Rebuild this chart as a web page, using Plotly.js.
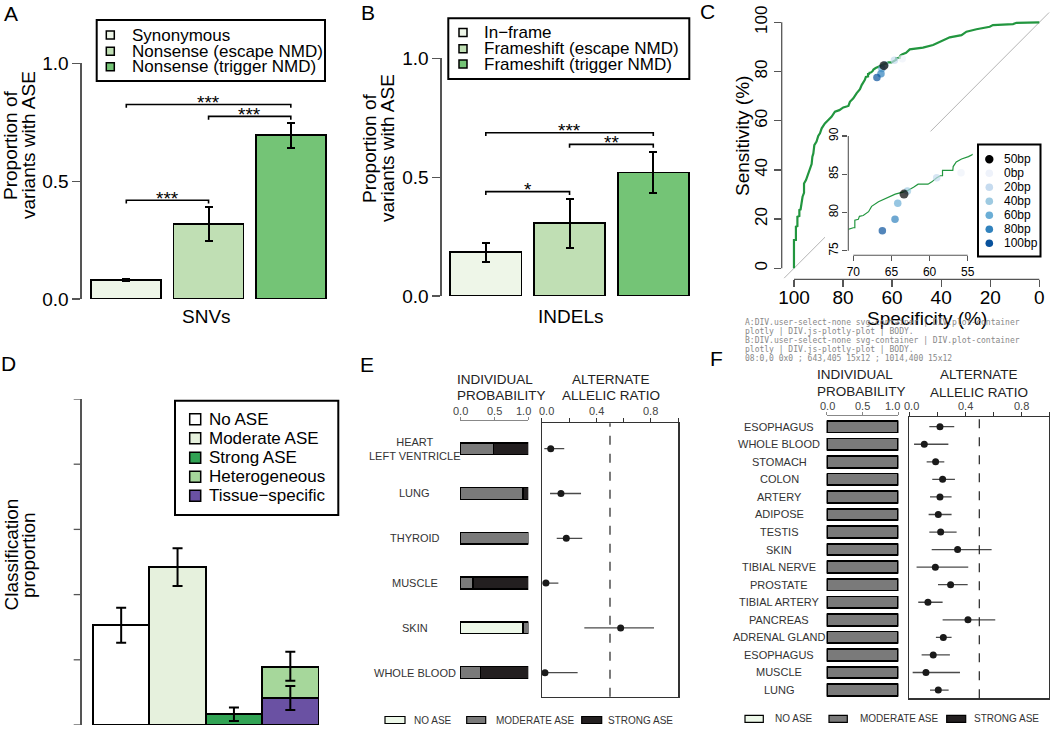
<!DOCTYPE html>
<html><head><meta charset="utf-8">
<script src="https://cdn.plot.ly/plotly-3.0.1.min.js"></script>
<style>html,body{margin:0;padding:0;background:#fff}#chart{width:1050px;height:731px}#dbg{position:absolute;left:745px;top:318px;width:300px;font:8px monospace;color:#888;white-space:pre-wrap;line-height:9px;z-index:5}</style>
</head><body><div id="chart"></div><div id="dbg"></div>
<script>
// ================= DATA =================
const snvCategories = ['Synonymous', 'Nonsense (escape NMD)', 'Nonsense (trigger NMD)'];
const snvValues     = [0.080, 0.319, 0.695];
const snvErrPlus    = [0.004, 0.072, 0.052];
const snvErrMinus   = [0.004, 0.072, 0.054];
const snvSigPairs   = [[0, 1], [0, 2], [1, 2]];
const snvSigHeights = [0.419, 0.825, 0.775];
const snvSigLabels  = ['***', '***', '***'];
const snvAxisLabel  = 'SNVs';

const indelCategories = ['In\u2212frame', 'Frameshift (escape NMD)', 'Frameshift (trigger NMD)'];
const indelValues     = [0.184, 0.306, 0.520];
const indelErrPlus    = [0.040, 0.102, 0.087];
const indelErrMinus   = [0.042, 0.106, 0.085];
const indelSigPairs   = [[0, 1], [0, 2], [1, 2]];
const indelSigHeights = [0.439, 0.687, 0.638];
const indelSigLabels  = ['*', '***', '**'];
const indelAxisLabel  = 'INDELs';

const proportionTicks = [0, 0.5, 1.0];
const proportionTickText = ['0.0', '0.5', '1.0'];

const rocSpecificity = [100, 100, 99.2, 99.2, 98.6, 98.6, 97.8, 97.8, 97.3, 96.9, 96.5, 95.9, 95.9, 95.1, 93.8,
  92.8, 92.5, 92.1, 91.7, 90.8, 90.1, 89.4, 88.7, 87.4, 86.0, 84.7, 83.3, 81.5, 79.9, 77.8, 77.2, 75.8, 74.5,
  73.1, 72.4, 71.3, 71.1, 70.7, 70.0, 69.8, 69.8, 69.34, 69.2, 68.7, 68.0, 67.6, 66.7, 65.6, 64.5, 63.4, 62.8,
  62.1, 61.5, 60.2, 59.7, 59.1, 58.6, 58.3, 58.3, 56.95, 56.9, 56.5, 55.8, 54.9, 54.3, 52.8, 47.4, 43.3, 40.6,
  36.5, 31.7, 29.7, 25.6, 20.2, 18.9, 10.7, 9.3, 0];
const rocSensitivity = [0, 11.5, 11.5, 16.9, 17.2, 21.0, 21.3, 23.7, 23.9, 27.1, 29.1, 30.7, 34.5, 35.9, 39.7,
  42.4, 45.4, 46.7, 50.1, 51.5, 53.8, 54.9, 56.9, 58.9, 60.3, 61.6, 63.7, 64.3, 65.4, 66.0, 67.7, 69.1, 71.1,
  72.8, 74.5, 75.9, 76.6, 77.8, 78.0, 78.0, 79.0, 79.1, 79.5, 79.6, 80.1, 80.8, 81.4, 81.9, 82.4, 82.7, 82.9,
  83.3, 83.7, 83.7, 84.0, 84.5, 84.8, 84.8, 85.5, 85.5, 86.0, 86.6, 87.0, 87.3, 87.6, 89.0, 89.7, 90.8, 92.1,
  93.9, 94.8, 96.2, 97.2, 98.2, 98.9, 99.3, 99.8, 100];
const windowLabels      = ['50bp', '0bp', '20bp', '40bp', '60bp', '80bp', '100bp'];
const windowSpecificity = [63.35, 55.87, 59.06, 62.9, 64.17, 64.53, 66.19];
const windowSensitivity = [82.4, 85.2, 84.55, 82.8, 81.2, 79.1, 77.6];
const rocTicks   = [0, 20, 40, 60, 80, 100];
const insetXTicks = [70, 65, 60, 55];
const insetYTicks = [75, 80, 85, 90];

const classLabels   = ['No ASE', 'Moderate ASE', 'Strong ASE', 'Heterogeneous', 'Tissue\u2212specific'];
const classValues   = [0.307, 0.484, 0.034, 0.097, 0.082];
const classErrPlus  = [0.053, 0.058, 0.020, 0.046, 0.038];
const classErrMinus = [0.055, 0.058, 0.022, 0.043, 0.036];
const classColumn   = [0, 1, 2, 3, 3];
const classTicks    = [0, 0.2, 0.4, 0.6, 0.8, 1.0];
const classTickText = ['0.0', '0.2', '0.4', '0.6', '0.8', '1.0'];

const probCategories = ['NO ASE', 'MODERATE ASE', 'STRONG ASE'];
const probTicks = [0, 0.5, 1.0];
const probTickText = ['0.0', '0.5', '1.0'];
const ratioTicks = [0, 0.2, 0.4, 0.6, 0.8, 1.0];
const ratioTickText = ['0.0', '', '0.4', '', '0.8', ''];
const ratioReference = 0.5;

const eTissues  = ['HEART<br>LEFT VENTRICLE', 'LUNG', 'THYROID', 'MUSCLE', 'SKIN', 'WHOLE BLOOD'];
const eNoASE    = [0, 0, 0, 0, 0.92, 0];
const eModerate = [0.49, 0.92, 1.0, 0.19, 0.08, 0.30];
const eStrong   = [0.51, 0.08, 0, 0.81, 0, 0.70];
const eRatio    = [0.066, 0.141, 0.180, 0.031, 0.578, 0.024];
const eRatioLo  = [0.019, 0.061, 0.110, 0.007, 0.312, 0.000];
const eRatioHi  = [0.165, 0.288, 0.297, 0.122, 0.822, 0.263];

const fTissues  = ['ESOPHAGUS', 'WHOLE BLOOD', 'STOMACH', 'COLON', 'ARTERY', 'ADIPOSE', 'TESTIS', 'SKIN',
  'TIBIAL NERVE', 'PROSTATE', 'TIBIAL ARTERY', 'PANCREAS', 'ADRENAL GLAND', 'ESOPHAGUS', 'MUSCLE', 'LUNG'];
const fNoASE    = [0, 0, 0, 0, 0, 0, 0, 0, 0, 0, 0, 0, 0, 0, 0, 0];
const fModerate = [1, 1, 1, 1, 1, 1, 1, 1, 1, 1, 1, 1, 1, 1, 1, 1];
const fStrong   = [0, 0, 0, 0, 0, 0, 0, 0, 0, 0, 0, 0, 0, 0, 0, 0];
const fRatio    = [0.219, 0.107, 0.188, 0.238, 0.219, 0.207, 0.224, 0.345, 0.186, 0.295, 0.133, 0.419, 0.243, 0.171, 0.119, 0.207];
const fRatioLo  = [0.143, 0.034, 0.124, 0.164, 0.148, 0.138, 0.143, 0.160, 0.052, 0.205, 0.064, 0.238, 0.190, 0.088, 0.024, 0.148];
const fRatioHi  = [0.321, 0.279, 0.250, 0.326, 0.302, 0.302, 0.338, 0.588, 0.421, 0.417, 0.238, 0.614, 0.302, 0.290, 0.362, 0.281];

// ================= STYLE =================
const FONT = 'Liberation Sans, Arial, Helvetica, sans-serif';
const snvColors   = ['#eef6e8', '#c0dfb4', '#74c476'];
const classColors = ['#ffffff', '#e6f1dd', '#31a354', '#a6d79b', '#6a51a3'];
const windowColors = ['#000000', '#eef2fa', '#c6dbef', '#9ecae1', '#6baed6', '#3182bd', '#08519c'];
const probColors  = ['#edf8e9', '#7a7a7a', '#231f20'];
const rocColor = '#22963f';
const AXC = '#555';

const W = 1050, H = 731;
const PX = v => v / W;
const PY = v => 1 - v / H;
const dx = (a, b) => [PX(a), PX(b)];
const dy = (t, b) => [PY(b), PY(t)];

const traces = [];
const shapes = [];
const annotations = [];

function ann(o) {
  annotations.push(Object.assign({showarrow: false, xref: 'paper', yref: 'paper',
    font: {family: FONT, size: 17, color: '#000'}}, o));
}
function txt(text, x, y, size, opts) {
  ann(Object.assign({text: text, x: PX(x), y: PY(y), font: {family: FONT, size: size, color: '#000'},
    xanchor: 'center', yanchor: 'middle'}, opts || {}));
}
function rectPx(x0, y0, x1, y1, fill, lw, layer) {
  shapes.push({type: 'rect', xref: 'paper', yref: 'paper', x0: PX(x0), x1: PX(x1), y0: PY(y1), y1: PY(y0),
    fillcolor: fill, line: {color: '#000', width: lw}, layer: layer || 'above'});
}

function barPanel(xa, ya, cats, vals, ep, em, pairs, heights, labels, tick) {
  const idx = cats.map((_, i) => i);
  traces.push({type: 'bar', x: idx, y: vals, width: 0.85, xaxis: xa, yaxis: ya,
    marker: {color: snvColors, line: {color: '#000', width: 1.8}},
    error_y: {type: 'data', symmetric: false, array: ep, arrayminus: em, color: '#000', thickness: 2, width: 4},
    hoverinfo: 'skip', showlegend: false});
  pairs.forEach((p, k) => {
    const h = heights[k], d = tick;
    traces.push({type: 'scatter', mode: 'lines', x: [p[0], p[0], p[1], p[1]], y: [h - d, h, h, h - d],
      xaxis: xa, yaxis: ya, line: {color: '#000', width: 1.6}, hoverinfo: 'skip', showlegend: false});
    annotations.push({text: labels[k], x: (p[0] + p[1]) / 2, y: h, xref: xa, yref: ya, showarrow: false,
      xanchor: 'center', yanchor: 'middle', yshift: 2, font: {family: FONT, size: 19, color: '#000'}});
  });
}
barPanel('x', 'y', snvCategories, snvValues, snvErrPlus, snvErrMinus, snvSigPairs, snvSigHeights, snvSigLabels, 0.014);
barPanel('x2', 'y2', indelCategories, indelValues, indelErrPlus, indelErrMinus, indelSigPairs, indelSigHeights, indelSigLabels, 0.014);

function squareLegend(box, labels, colors, ys, mx, half, tx, size) {
  rectPx(box[0], box[1], box[2], box[3], '#fff', 2);
  labels.forEach((l, i) => {
    rectPx(mx - half, ys[i] - half, mx + half, ys[i] + half, colors[i], 1.5);
    txt(l, tx, ys[i], size, {xanchor: 'left'});
  });
}
squareLegend([96.7, 20, 325, 81], snvCategories, snvColors, [35, 51.2, 66.7], 110.3, 4, 130, 17);
squareLegend([448.3, 18.3, 689.3, 79], indelCategories, snvColors, [32.5, 48.7, 64], 463, 4, 481.7, 17);

const cXd = [781.7, 1049.1], cXr = [105, -4], cYd = [279.3, 12.5], cYr = [-4.47, 104];
const cPx = s => cXd[0] + (s - cXr[0]) / (cXr[1] - cXr[0]) * (cXd[1] - cXd[0]);
const cPy = s => cYd[0] + (s - cYr[0]) / (cYr[1] - cYr[0]) * (cYd[1] - cYd[0]);
shapes.push({type: 'line', xref: 'paper', yref: 'paper', layer: 'below',
  x0: PX(cPx(104)), y0: PY(cPy(100 - 104)), x1: PX(cPx(-4)), y1: PY(cPy(100 + 4)),
  line: {color: '#b4b4b4', width: 1}});
shapes.push({type: 'rect', xref: 'paper', yref: 'paper', layer: 'below',
  x0: PX(825), x1: PX(1046), y0: PY(276), y1: PY(134.5), fillcolor: '#fff', line: {width: 0}});

const drawOrder = [1, 2, 3, 4, 5, 6, 0];
function rocTraces(xa, ya, lw, big, small) {
  traces.push({type: 'scatter', mode: 'lines', x: rocSpecificity, y: rocSensitivity, xaxis: xa, yaxis: ya,
    line: {color: rocColor, width: lw}, hoverinfo: 'skip', showlegend: false});
  traces.push({type: 'scatter', mode: 'markers', xaxis: xa, yaxis: ya,
    x: drawOrder.map(i => windowSpecificity[i]), y: drawOrder.map(i => windowSensitivity[i]),
    marker: {color: drawOrder.map(i => windowColors[i]), size: drawOrder.map(i => i === 0 ? big : small), line: {width: 0}},
    hoverinfo: 'skip', showlegend: false});
}
rocTraces('x3', 'y3', 2.2, 9, 7.5);
rocTraces('x4', 'y4', 1.2, 9, 7.5);

shapes.push({type: 'line', xref: 'x3 domain', yref: 'y3', x0: 0, x1: 0, y0: 0, y1: 100, line: {color: AXC, width: 1.3}});
shapes.push({type: 'line', xref: 'x3', yref: 'y3 domain', x0: 100, x1: 0, y0: 0, y1: 0, line: {color: AXC, width: 1.3}});
shapes.push({type: 'line', xref: 'x4 domain', yref: 'y4', x0: 0, x1: 0, y0: 75, y1: 90, line: {color: AXC, width: 1.1}});
shapes.push({type: 'line', xref: 'x4', yref: 'y4 domain', x0: 70, x1: 55, y0: 0, y1: 0, line: {color: AXC, width: 1.1}});

rectPx(978, 144.5, 1040.5, 256.5, '#fff', 2);
const legYs = [159.3, 173.3, 187.3, 201.3, 215.3, 229.3, 243.3];
windowLabels.forEach((l, i) => {
  const r = i === 0 ? 4.2 : 3.8;
  shapes.push({type: 'circle', xref: 'paper', yref: 'paper', x0: PX(989.3 - r), x1: PX(989.3 + r),
    y0: PY(legYs[i] + r), y1: PY(legYs[i] - r), fillcolor: windowColors[i], line: {width: 0}});
  txt(l, 1001.5, legYs[i], 12, {xanchor: 'left'});
});

// ---------- D ----------
const dOrder = [0, 1, 2, 4, 3];
const colTop = {};
const dTops = new Array(classValues.length);
dOrder.forEach(k => {
  const c = classColumn[k];
  colTop[c] = (colTop[c] || 0) + classValues[k];
  dTops[k] = colTop[c];
});
dOrder.forEach(k => {
  traces.push({type: 'bar', x: [classColumn[k]], y: [classValues[k]], width: 1, xaxis: 'x5', yaxis: 'y5',
    marker: {color: classColors[k], line: {color: '#000', width: 1.8}}, hoverinfo: 'skip', showlegend: false});
});
traces.push({type: 'scatter', mode: 'markers', x: classColumn, y: dTops, xaxis: 'x5', yaxis: 'y5',
  marker: {size: 1, color: 'rgba(0,0,0,0)'},
  error_y: {type: 'data', symmetric: false, array: classErrPlus, arrayminus: classErrMinus, color: '#000', thickness: 2, width: 5},
  hoverinfo: 'skip', showlegend: false});
squareLegend([175, 400.7, 338.3, 515], classLabels, classColors, [419.3, 438.3, 457.7, 476.7, 495.7], 195.2, 5.5, 206.7, 17);
// D value-axis ticks (shapes) and labels (text trace on the D axes, outside the plot area)
classTicks.forEach(v => {
  shapes.push({type: 'line', xref: 'x5 domain', yref: 'y5', x0: -8 / 258.3, x1: 0, y0: v, y1: v,
    line: {color: AXC, width: 1.3}});
});
const dLabelX = -0.70 - 10 / 56.4;
traces.push({type: 'scatter', mode: 'text', x: classTicks.map(() => dLabelX), y: classTicks, text: classTickText,
  textposition: 'middle left', cliponaxis: false, xaxis: 'x5', yaxis: 'y5',
  textfont: {family: FONT, size: 18, color: '#000'}, hoverinfo: 'skip', showlegend: false});

// ---------- E & F ----------
function tissuePanel(pxa, pya, rxa, rya, tissues, probs, ratio, lo, hi, barW, bw, labelX) {
  const rows = tissues.map((_, i) => i);
  probs.forEach((vals, k) => {
    traces.push({type: 'bar', orientation: 'h', x: vals, y: rows, width: barW, xaxis: pxa, yaxis: pya,
      marker: {color: probColors[k], line: {color: '#000', width: bw}}, hoverinfo: 'skip', showlegend: false});
  });
  traces.push({type: 'scatter', mode: 'markers', x: ratio, y: rows, xaxis: rxa, yaxis: rya,
    marker: {color: '#1a1a1a', size: 7},
    error_x: {type: 'data', symmetric: false, array: hi.map((h, i) => h - ratio[i]),
      arrayminus: lo.map((l, i) => ratio[i] - l), width: 0, thickness: 1.3, color: '#4a4a4a'},
    hoverinfo: 'skip', showlegend: false});
  shapes.push({type: 'line', xref: rxa, yref: rya + ' domain', x0: ratioReference, x1: ratioReference, y0: 0, y1: 1,
    line: {color: '#222', width: 1.2, dash: 'dash'}});
  tissues.forEach((t, i) => {
    annotations.push({text: t, x: PX(labelX), y: i, xref: 'paper', yref: pya, showarrow: false,
      xanchor: 'center', yanchor: 'middle', font: {family: FONT, size: 11, color: '#333'}});
  });
}
tissuePanel('x6', 'y6', 'x7', 'y7', eTissues, [eNoASE, eModerate, eStrong], eRatio, eRatioLo, eRatioHi, 0.26, 1.4, 414.5);
tissuePanel('x8', 'y8', 'x9', 'y9', fTissues, [fNoASE, fModerate, fStrong], fRatio, fRatioLo, fRatioHi, 0.66, 1.8, 779.3);

function topLabels(xa, vals, texts, shifts, ypx) {
  vals.forEach((v, i) => {
    if (!texts[i]) return;
    annotations.push({text: texts[i], x: v, xref: xa, y: PY(ypx), yref: 'paper', xshift: shifts[i], showarrow: false,
      xanchor: 'center', yanchor: 'middle', font: {family: FONT, size: 11, color: '#444'}});
  });
}
topLabels('x6', probTicks, probTickText, [0.8, 0.8, -4.5], 411);
topLabels('x7', ratioTicks, ratioTickText, [5, 0, 0, 0, 0, 0], 411);
topLabels('x8', probTicks, probTickText, [0.3, -0.2, -6.3], 406);
topLabels('x9', ratioTicks, ratioTickText, [2.4, 0, 0, 0, 0, 0], 406);

function probLegend(yc, boxes, textXs) {
  probCategories.forEach((c, k) => {
    rectPx(boxes[k][0], yc - 3.5, boxes[k][1], yc + 3.5, probColors[k], 1.2);
    txt(c, textXs[k], yc, 10, {xanchor: 'left', font: {family: FONT, size: 10, color: '#333'}});
  });
}
probLegend(720, [[385, 405], [466.7, 485.7], [581.7, 601.7]], [412.3, 494.3, 605.7]);
probLegend(718.8, [[745, 763.3], [829, 847.3], [946.7, 965.7]], [772.7, 857.7, 971.7]);

const hdrFont = {family: FONT, size: 13.5, color: '#222'};
txt('INDIVIDUAL', 455, 379.3, 13.5, {xanchor: 'left', font: hdrFont});
txt('PROBABILITY', 455, 395, 13.5, {xanchor: 'left', font: hdrFont});
txt('ALTERNATE', 610.8, 379.3, 13.5, {font: hdrFont});
txt('ALLELIC RATIO', 610.8, 395.5, 13.5, {font: hdrFont});
txt('INDIVIDUAL', 815, 375, 13.5, {xanchor: 'left', font: hdrFont});
txt('PROBABILITY', 815, 391.7, 13.5, {xanchor: 'left', font: hdrFont});
txt('ALTERNATE', 979.2, 375, 13.5, {font: hdrFont});
txt('ALLELIC RATIO', 979.2, 392, 13.5, {font: hdrFont});

txt('A', 10.5, 13.5, 21); txt('B', 367.5, 12.5, 21); txt('C', 707.5, 11.5, 21);
txt('D', 8, 363, 21); txt('E', 366.7, 364, 21); txt('F', 716.7, 358, 21);
txt('Proportion of', 10, 145, 19, {textangle: -90});
txt('variants with ASE', 28, 145, 19, {textangle: -90});
txt('Proportion of', 370, 148, 19, {textangle: -90});
txt('variants with ASE', 388, 148, 19, {textangle: -90});
txt(snvAxisLabel, 206.3, 316.5, 19);
txt(indelAxisLabel, 570.5, 316.5, 19);
txt('Sensitivity (%)', 742, 136, 19, {textangle: -90});
txt('Specificity (%)', 927, 318, 19);
txt('Classification', 10.5, 555, 19, {textangle: -90});
txt('proportion', 28, 555, 19, {textangle: -90});

// ================= LAYOUT =================
const base = {showgrid: false, zeroline: false, fixedrange: true, ticklabeloverflow: 'allow'};
const hidden = Object.assign({}, base, {visible: false});
const tfont = s => ({family: FONT, size: s, color: '#000'});
function yProp(anchor, dom, tickOpts, fs) {
  return Object.assign({}, base, {anchor: anchor, domain: dom, range: [0, 1], showline: true, linecolor: AXC, linewidth: 1.3,
    ticks: 'outside', ticklen: 8, tickwidth: 1.3, tickcolor: AXC, tickfont: tfont(fs)}, tickOpts);
}
const topAxis = (anchor, dom, tv, lc, tl, mirror) => Object.assign({}, base, {anchor: anchor, side: 'top', domain: dom,
  range: [0, 1], showline: true, mirror: mirror, linecolor: lc, linewidth: mirror ? 1.2 : 1, ticks: 'outside', ticklen: tl,
  tickcolor: lc, tickvals: tv, showticklabels: false});
const boxY = (anchor, dom, rng) => Object.assign({}, base, {anchor: anchor, domain: dom, range: rng, showline: true,
  mirror: true, linecolor: '#333', linewidth: 1.2, ticks: '', showticklabels: false});
const layout = {
  width: W, height: H, margin: {l: 0, r: 0, t: 0, b: 0}, paper_bgcolor: '#fff', plot_bgcolor: '#fff',
  showlegend: false, barmode: 'stack', font: {family: FONT},
  xaxis:  Object.assign({}, hidden, {anchor: 'y', domain: dx(81.7, 335), range: [-0.542, 2.537]}),
  yaxis:  yProp('x', dy(63.3, 299), {tickvals: proportionTicks, ticktext: proportionTickText}, 19),
  xaxis2: Object.assign({}, hidden, {anchor: 'y2', domain: dx(441.7, 700), range: [-0.527, 2.558]}),
  yaxis2: yProp('x2', dy(58.3, 296), {tickvals: proportionTicks, ticktext: proportionTickText}, 19),
  xaxis3: Object.assign({}, base, {anchor: 'y3', domain: dx(cXd[0], cXd[1]), range: cXr, showline: false,
    ticks: 'outside', ticklen: 7, tickwidth: 1.3, tickcolor: AXC, tickvals: rocTicks, tickfont: tfont(19), ticklabelstandoff: -6}),
  yaxis3: Object.assign({}, base, {anchor: 'x3', domain: dy(cYd[1], cYd[0]), range: cYr, showline: false,
    ticks: 'outside', ticklen: 7, tickwidth: 1.3, tickcolor: AXC, tickvals: rocTicks, tickangle: -90, tickfont: tfont(17)}),
  xaxis4: Object.assign({}, base, {anchor: 'y4', domain: dx(848.3, 972.7), range: [70.656, 54.34], showline: false,
    ticks: 'outside', ticklen: 5, tickwidth: 1.1, tickcolor: AXC, tickvals: insetXTicks, tickfont: tfont(12)}),
  yaxis4: Object.assign({}, base, {anchor: 'x4', domain: dy(131.4, 255.3), range: [74.4, 90.6], showline: false,
    ticks: 'outside', ticklen: 5, tickwidth: 1.1, tickcolor: AXC, tickvals: insetYTicks, tickangle: -90, tickfont: tfont(12)}),
  xaxis5: Object.assign({}, hidden, {anchor: 'y5', domain: dx(81.7, 340), range: [-0.70, 3.881]}),
  yaxis5: Object.assign({}, base, {anchor: 'x5', domain: dy(399, 725), range: [0, 1], showline: true, linecolor: AXC,
    linewidth: 1.3, ticks: '', showticklabels: false}),
  xaxis6: topAxis('y6', dx(460, 528.3), probTicks, '#888', 3, false),
  yaxis6: Object.assign({}, hidden, {anchor: 'x6', domain: dy(420.7, 696.7), range: [5.54, -0.625]}),
  xaxis7: topAxis('y7', dx(541.7, 678.3), ratioTicks, '#333', 4, true),
  yaxis7: boxY('x7', dy(423.3, 696.7), [5.536, -0.567]),
  xaxis8: topAxis('y8', dx(826.7, 898.3), probTicks, '#888', 3, false),
  yaxis8: Object.assign({}, hidden, {anchor: 'x8', domain: dy(416, 698.3), range: [15.47, -0.61]}),
  xaxis9: topAxis('y9', dx(909.3, 1049.3), ratioTicks, '#333', 4, true),
  yaxis9: boxY('x9', dy(417.3, 698.3), [15.47, -0.535]),
  shapes: shapes,
  annotations: annotations
};

Plotly.newPlot('chart', traces, layout, {displayModeBar: false, staticPlot: true}).then(() => {
  const d = e => e.tagName + '.' + ((e.getAttribute && e.getAttribute('class')) || '');
  const a = document.elementsFromPoint(60, 464).slice(0, 4).map(d).join(' | ');
  const b = document.elementsFromPoint(60, 530).slice(0, 4).map(d).join(' | ');
  const t = Array.from(document.querySelectorAll('text')).filter(e => e.textContent === '0.8').map(e => {
    const r = e.getBoundingClientRect(); return Math.round(r.left) + ',' + Math.round(r.top) + ' ' + Math.round(r.width) + 'x' + Math.round(r.height);
  }).join(' ; ');
  document.getElementById('dbg').textContent = 'A:' + a + '\nB:' + b + '\n08:' + t;
});
</script>
</body></html>
